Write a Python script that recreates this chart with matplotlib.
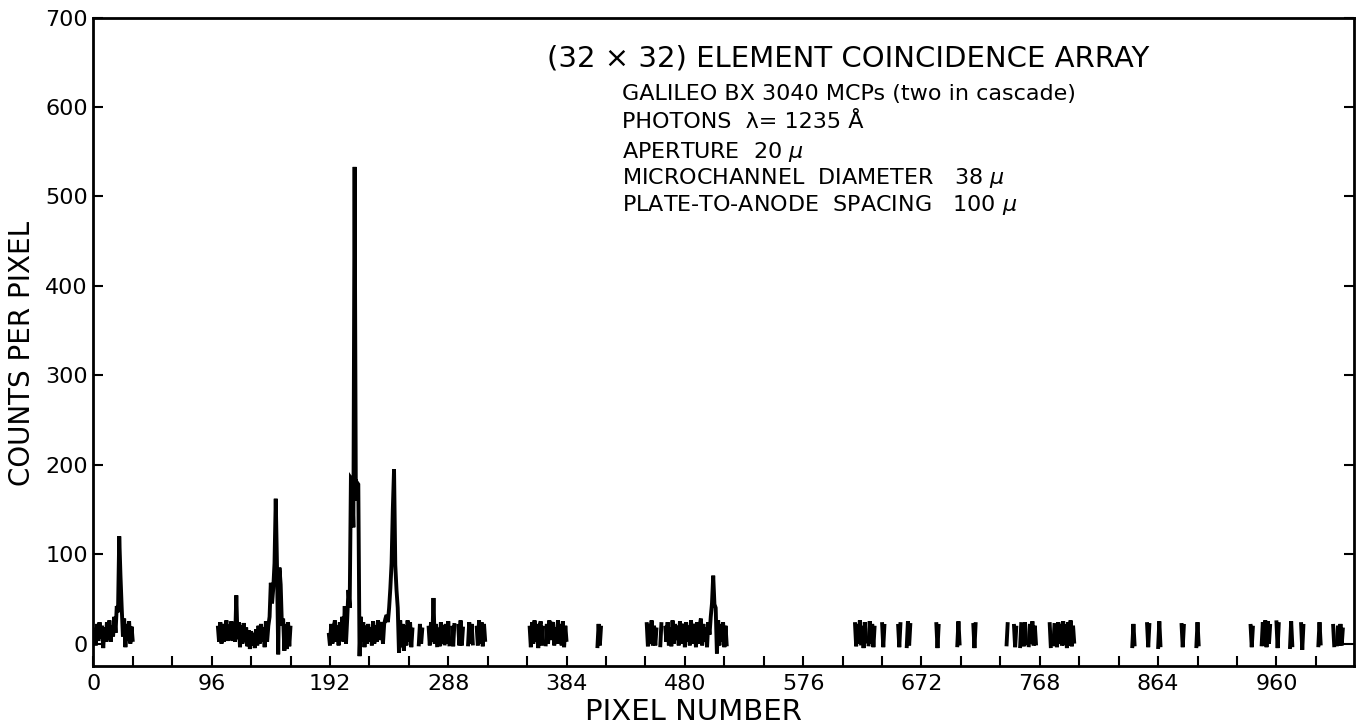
import numpy as np
import matplotlib
matplotlib.use("Agg")
import matplotlib.pyplot as plt

# comptages par pixel, segment par segment (pixel de depart, valeurs)
seg_start = [1, 101, 191, 264, 272, 280, 285, 291, 296, 304, 311,
             354, 367, 409, 449, 460, 464]
counts_a = [18, -2, 22, 3, 24, 6, 20, -5, 18, 2, 24, 4, 26, 2, 20, 8,
            30, 12, 42, 35, 120, 76, 40, 8, 28, -4, 22, 3, 25, 0, 19, 2]
counts_b = [20, 2, 24, 0, 22, 2, 18, 26, 3, 21, 4, 25, 3, 19, 2, 54,
            5, 24, -4, 20, 0, 23, 2, 18, -3, 15, -6, 14, -2, 12, -5, 16,
            -2, 20, 0, 22, 2, 18, -4, 25, 2, 20, 30, 68, 45, 62, 90, 162,
            88, -12, 85, 66, 20, 28, -8, 22, -6, 24, -3, 20]
counts_c = [12, -2, 22, 0, 18, 26, 2, 20, -2, 24, 4, 30, 2, 42, 0, 28,
            60, 40, 185, 183, 130, 533, 160, 180, 178, -14, 30, 2, 24, -4,
            20, 0, 22, 2, 18, -2, 25, 0, 20, 2, 26, 4, 18, 24, 0, 22, 28,
            32, 24, 40, 62, 90, 150, 195, 88, 60, 40, -10, 26, -4, 22, -8,
            20, -2, 26, 2, 24, -4, 18]
counts_d = [[-3, 22, 0, 18],
            [20, -2, 24, 2, 51, 0, 22, -4],
            [18, -3, 24, 0, 21],
            [-2, 22, 0, 25, -3],
            [20, -3, 23],
            [22, -2, 26, -2, 19],
            [-3, 24, 0, 22, -2],
            [20, -2, 26, 0, 24, -3, 22, 2]]
counts_e = [[20, -4, 24, 0, 26, 2, 22, -5, 18, 25, -2, 20],
            [-3, 22, 0, 26, 4, 20, 24, -2, 18, 0, 26, 0, 22, -2, 25, -4, 20, 2]]
counts_f = [-5, 22, -2, 20]
counts_g = [[24, -3, 22, 0, 26, -2, 20, -2, 18],
            [-4, 24],
            [20, 2, 24, -2, 18, -3, 26, 0, 22, 4, 20, -2, 25, 0, 18, 22,
             -4, 24, 2, 20, -2, 26, 0, 22, 16, -4, 24, 0, 20, 28, -2, 22,
             2, 18, -4, 24, 10, 30, 45, 76, 44, 40, -11, 26, -2, 22, 2,
             24, -4, 20, -3]]

# zone clairsemee (pixels isoles)
burst_start = [618, 624, 629, 640, 653, 660, 684, 701, 714, 741, 747,
               752, 754, 759, 776, 779, 781, 789, 843, 855, 864, 883,
               895, 939, 948, 960, 971, 980, 994, 1006, 1009]
burst_counts = [[24, -3, 22, 0, 26, -2], [20, -5, 24, 0],
                [-3, 25, 0, 22, -4, 20], [24, -4, 22], [22, -4, 24],
                [-5, 25, -2, 23], [24, -5, 22], [-4, 25, -2], [23, -5, 24],
                [-3, 24], [22, -4, 20], [-5, 24], [20, -3, 24, -2],
                [-4, 22, 0, 25, -2, 20, -2], [24, -5], [-3, 23],
                [20, -4, 24, 0, 22, -2, 25, -2], [22, -5, 24, -2, 26, -3, 20, 0],
                [-5, 22, -3], [24, -4, 23], [-6, 25, -4], [23, -4, 22],
                [-5, 24, -3], [22, -4, 20], [-3, 24, -2, 26, -4, 25, 0, 22],
                [26, -5, 24], [-6, 25, -4], [24, -7, 22], [-4, 24, -2],
                [22, -4], [-3, 20, -2, 22, -2, 18]]

x_ticks = [0, 96, 192, 288, 384, 480, 576, 672, 768, 864, 960]
y_ticks = [0, 100, 200, 300, 400, 500, 600, 700]

dense = [counts_a, counts_b, counts_c] + counts_d + counts_e + [counts_f] + counts_g
segments = list(zip(seg_start, dense)) + list(zip(burst_start, burst_counts))

plt.rcParams['font.family'] = ['DejaVu Sans']
plt.rcParams['mathtext.fontset'] = 'dejavusans'

fig = plt.figure(figsize=(13.57, 7.25), dpi=100)
ax = fig.add_axes([0.0688, 0.0814, 0.929, 0.8944])

for start, vals in segments:
    xs = np.arange(start, start + len(vals))
    ax.plot(xs, vals, color='black', linewidth=2.8, solid_joinstyle='miter',
            solid_capstyle='butt')

ax.set_xlim(0, 1023)
ax.set_ylim(-25, 700)
ax.set_xticks(np.arange(0, 1024, 32), minor=True)
ax.set_xticks(x_ticks)
ax.set_yticks(y_ticks)
ax.tick_params(which='both', direction='in', length=7, width=1.5,
               top=False, right=True, labelsize=16)
ax.tick_params(axis='x', pad=6)
ax.tick_params(axis='y', pad=4)
for s in ax.spines.values():
    s.set_linewidth(2)

fig.text(0.511, 0.018, "PIXEL NUMBER", fontsize=21, ha='center', va='center')
fig.text(0.0162, 0.512, "COUNTS PER PIXEL", fontsize=20, rotation=90,
         ha='center', va='center')

fig.text(0.625, 0.92, "(32 × 32) ELEMENT COINCIDENCE ARRAY", fontsize=21,
         ha='center', va='center')
lignes = ["GALILEO BX 3040 MCPs (two in cascade)",
          "PHOTONS  λ= 1235 Å",
          r"APERTURE  20 $\mu$",
          r"MICROCHANNEL  DIAMETER   38 $\mu$",
          r"PLATE-TO-ANODE  SPACING   100 $\mu$"]
for txt, y in zip(lignes, [0.870, 0.832, 0.791, 0.754, 0.717]):
    fig.text(0.4584, y, txt, fontsize=16, ha='left', va='center')

fig.savefig("out.png", dpi=100)
